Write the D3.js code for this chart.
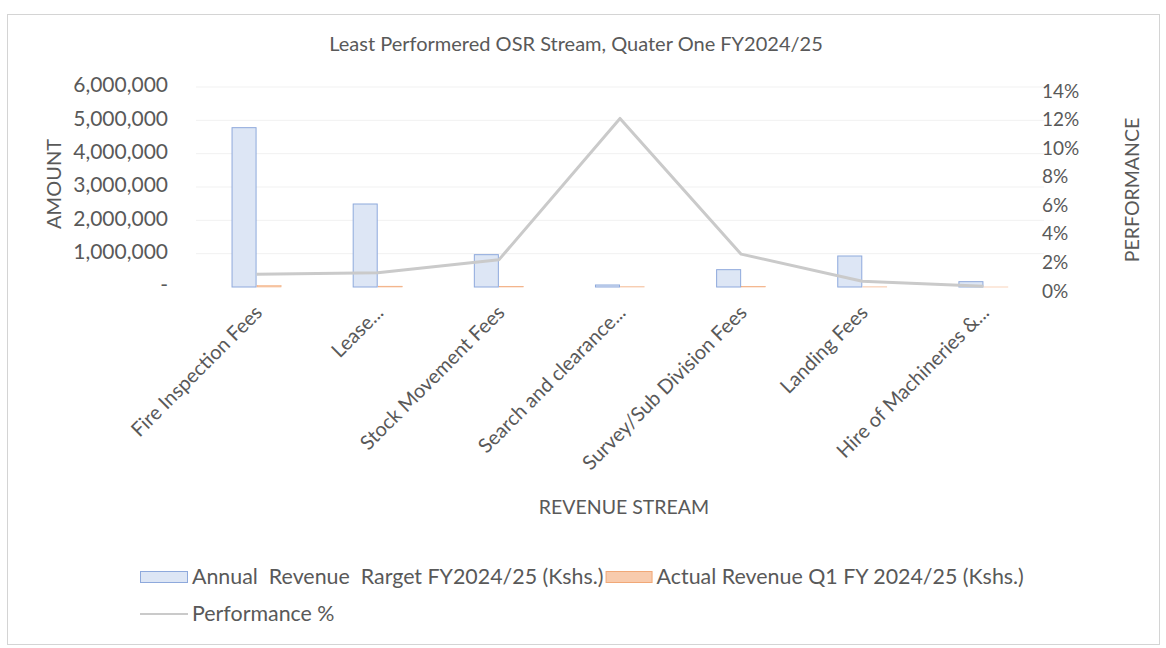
<!DOCTYPE html>
<html>
<head>
<meta charset="utf-8">
<script src="https://cdn.jsdelivr.net/npm/d3@7"></script>
<style>
	body { margin: 0; background: #fff; }
	text { font-family: Lato, "Noto Sans", sans-serif; fill: #595959; }
</style>
</head>
<body>
<div id="chart"></div>
<script>
// chart values
var categories = ["Fire Inspection Fees", "Lease...", "Stock Movement Fees", "Search and clearance...",
	"Survey/Sub Division Fees", "Landing Fees", "Hire of Machineries &..."]
var targets = [4780000, 2490000, 970000, 60000, 520000, 930000, 160000]
var actuals = [43000, 24900, 18400, 7100, 12000, 3700, 80]
var performance = [0.009, 0.010, 0.019, 0.118, 0.023, 0.004, 0.0005]
var amountTicks = [0, 1000000, 2000000, 3000000, 4000000, 5000000, 6000000]
var percentTicks = [0, 0.02, 0.04, 0.06, 0.08, 0.10, 0.12, 0.14]
var seriesNames = ["Annual  Revenue  Rarget FY2024/25 (Kshs.)", "Actual Revenue Q1 FY 2024/25 (Kshs.)", "Performance %"]

run()

function run() {
	var w = 1166
	var h = 648
	var box = { left: 196, right: 1044, top: 87, bottom: 287 }

	var blueFill = "#dde6f5", blueStroke = "#8ea9dc"
	var orangeFill = "#f8cbad", orangeStroke = "#f1a877"
	var lineColor = "#cacaca"

	var svg = d3.select("#chart").append("svg")
		.attr("width", w)
		.attr("height", h)

	// outer chart border
	svg.append("rect")
		.attr("x", 7.5).attr("y", 14.5)
		.attr("width", 1152).attr("height", 630)
		.attr("fill", "none")
		.attr("stroke", "#d4d4d4")

	var x = d3.scaleBand()
		.domain(categories)
		.range([box.left, box.right])

	var inner = d3.scaleBand()
		.domain(["target", "actual"])
		.range([0, x.bandwidth()])
		.paddingOuter(1.42)

	var y = d3.scaleLinear().domain([0, 6000000]).range([box.bottom, box.top])
	var yR = d3.scaleLinear().domain([0, 0.14]).range([box.bottom, box.top])

	// gridlines
	svg.append("g")
		.selectAll("line")
		.data(amountTicks.slice(1))
		.enter()
		.append("line")
		.attr("x1", box.left).attr("x2", box.right)
		.attr("y1", d => y(d)).attr("y2", d => y(d))
		.attr("stroke", "#f1f1f1")

	// left axis
	var yAxis = d3.axisLeft(y)
		.tickValues(amountTicks)
		.tickSize(0)
		.tickPadding(0)
		.tickFormat(d => d === 0 ? "-" : d3.format(",")(d))
	svg.append("g")
		.attr("transform", "translate(168,-2)")
		.call(yAxis)
		.call(g => g.select(".domain").remove())
		.selectAll("text")
		.attr("font-size", 21)

	// right axis
	var yAxisR = d3.axisRight(yR)
		.tickValues(percentTicks)
		.tickSize(0)
		.tickPadding(0)
		.tickFormat(d3.format(".0%"))
	svg.append("g")
		.attr("transform", "translate(1042,4)")
		.call(yAxisR)
		.call(g => g.select(".domain").remove())
		.selectAll("text")
		.attr("font-size", 19)

	svg.selectAll(".tick text").attr("fill", "#595959")
	svg.selectAll("g[font-family]").attr("font-family", null)

	// bars
	svg.append("g")
		.selectAll("rect")
		.data(targets)
		.enter()
		.append("rect")
		.attr("x", (d, i) => x(categories[i]) + inner("target") + 0.5)
		.attr("y", d => y(d))
		.attr("width", inner.bandwidth() - 1)
		.attr("height", d => box.bottom - y(d))
		.attr("fill", blueFill)
		.attr("stroke", blueStroke)
		.attr("stroke-width", 1)

	svg.append("g")
		.selectAll("rect")
		.data(actuals)
		.enter()
		.append("rect")
		.attr("x", (d, i) => x(categories[i]) + inner("actual") + 0.5)
		.attr("y", d => y(d))
		.attr("width", inner.bandwidth() - 1)
		.attr("height", d => box.bottom - y(d))
		.attr("fill", orangeFill)
		.attr("stroke", orangeStroke)
		.attr("stroke-width", 0.5)

	// performance line
	var line = d3.line()
		.x((d, i) => x(categories[i]) + x.bandwidth() / 2)
		.y(d => yR(d))

	svg.append("path")
		.datum(performance)
		.attr("d", line)
		.attr("fill", "none")
		.attr("stroke", lineColor)
		.attr("stroke-width", 3)
		.attr("stroke-linejoin", "round")

	// category labels
	svg.append("g")
		.selectAll("text")
		.data(categories)
		.enter()
		.append("text")
		.attr("transform", d => "translate(" + (x(d) + x.bandwidth() / 2 - 3) + "," + (box.bottom + 17) + ") rotate(-45)")
		.attr("text-anchor", "end")
		.attr("dy", "0.7em")
		.attr("font-size", 20)
		.text(d => d)

	// title and axis titles
	svg.append("text")
		.attr("x", 576).attr("y", 51)
		.attr("text-anchor", "middle")
		.attr("font-size", 20)
		.text("Least Performered OSR Stream, Quater One FY2024/25")

	svg.append("text")
		.attr("transform", "translate(61,184) rotate(-90)")
		.attr("text-anchor", "middle")
		.attr("font-size", 20)
		.text("AMOUNT")

	svg.append("text")
		.attr("transform", "translate(1139,190) rotate(-90)")
		.attr("text-anchor", "middle")
		.attr("font-size", 19.5)
		.text("PERFORMANCE")

	svg.append("text")
		.attr("x", 624).attr("y", 514)
		.attr("text-anchor", "middle")
		.attr("font-size", 19.5)
		.text("REVENUE STREAM")

	// legend
	var legend = svg.append("g")
	var legendSize = 21.4

	legend.append("rect")
		.attr("x", 140.5).attr("y", 571.5).attr("width", 47).attr("height", 11)
		.attr("fill", blueFill).attr("stroke", blueStroke)
	var t1 = legend.append("text")
		.attr("x", 192).attr("y", 584)
		.attr("font-size", legendSize)
		.style("white-space", "pre")
		.text(seriesNames[0])

	var x2 = 192 + t1.node().getComputedTextLength() + 2
	legend.append("rect")
		.attr("x", x2 + 0.5).attr("y", 571.5).attr("width", 46).attr("height", 11)
		.attr("fill", orangeFill).attr("stroke", orangeStroke)
	legend.append("text")
		.attr("x", x2 + 51).attr("y", 584)
		.attr("font-size", legendSize)
		.text(seriesNames[1])

	legend.append("line")
		.attr("x1", 140).attr("x2", 188)
		.attr("y1", 614).attr("y2", 614)
		.attr("stroke", lineColor).attr("stroke-width", 2)
	legend.append("text")
		.attr("x", 192).attr("y", 621)
		.attr("font-size", legendSize)
		.text(seriesNames[2])
}
</script>
</body>
</html>
